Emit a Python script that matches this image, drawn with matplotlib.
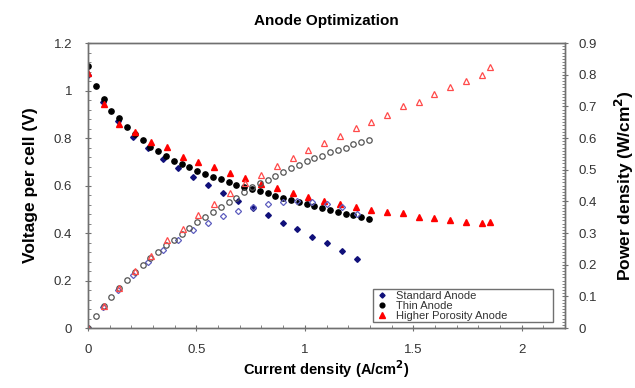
import matplotlib
matplotlib.use('Agg')
import matplotlib.pyplot as plt
from matplotlib.ticker import MultipleLocator, FuncFormatter

plt.rcParams['font.family'] = ['Liberation Sans', 'DejaVu Sans']

# --- Standard Anode ---
std_i = [0.0, 0.069, 0.138, 0.207, 0.276, 0.345, 0.414, 0.483, 0.552, 0.621,
         0.690, 0.759, 0.828, 0.897, 0.966, 1.035, 1.104, 1.173, 1.242]
std_v = [1.065, 0.953, 0.873, 0.806, 0.757, 0.711, 0.672, 0.637, 0.603, 0.569,
         0.534, 0.505, 0.475, 0.444, 0.415, 0.384, 0.356, 0.326, 0.289]
std_p = [0.0, 0.066, 0.120, 0.167, 0.209, 0.245, 0.278, 0.308, 0.333, 0.353,
         0.368, 0.383, 0.393, 0.398, 0.401, 0.397, 0.393, 0.382, 0.359]

# --- Thin Anode ---
thin_i = [0.0, 0.036, 0.072, 0.108, 0.144, 0.180, 0.216, 0.252, 0.288, 0.324,
          0.360, 0.396, 0.432, 0.468, 0.504, 0.540, 0.576, 0.612, 0.648, 0.684,
          0.720, 0.756, 0.792, 0.828, 0.864, 0.900, 0.936, 0.972, 1.008, 1.044,
          1.080, 1.116, 1.152, 1.188, 1.224, 1.260, 1.296]
thin_v = [1.104, 1.019, 0.963, 0.915, 0.883, 0.848, 0.818, 0.790, 0.763, 0.745,
          0.724, 0.705, 0.690, 0.676, 0.662, 0.648, 0.637, 0.626, 0.615, 0.602,
          0.595, 0.587, 0.578, 0.567, 0.557, 0.549, 0.539, 0.529, 0.522, 0.514,
          0.504, 0.497, 0.487, 0.480, 0.474, 0.466, 0.459]
thin_p = [0.0, 0.037, 0.069, 0.099, 0.127, 0.153, 0.177, 0.199, 0.220, 0.241,
          0.261, 0.279, 0.298, 0.316, 0.334, 0.350, 0.367, 0.383, 0.399, 0.412,
          0.428, 0.444, 0.458, 0.469, 0.481, 0.494, 0.505, 0.514, 0.526, 0.537,
          0.544, 0.555, 0.561, 0.570, 0.580, 0.587, 0.595]

# --- Higher Porosity Anode ---
por_i = [0.0, 0.073, 0.145, 0.218, 0.290, 0.363, 0.436, 0.508, 0.581, 0.653,
         0.726, 0.799, 0.871, 0.944, 1.016, 1.089, 1.162, 1.234, 1.307, 1.379,
         1.452, 1.525, 1.597, 1.670, 1.742, 1.815, 1.854]
por_v = [1.072, 0.943, 0.859, 0.827, 0.785, 0.763, 0.721, 0.700, 0.677, 0.651,
         0.630, 0.606, 0.588, 0.570, 0.553, 0.536, 0.522, 0.511, 0.497, 0.487,
         0.483, 0.469, 0.462, 0.455, 0.448, 0.441, 0.445]
por_p = [0.0, 0.069, 0.125, 0.180, 0.228, 0.277, 0.314, 0.356, 0.393, 0.425,
         0.457, 0.484, 0.512, 0.538, 0.562, 0.584, 0.607, 0.631, 0.650, 0.672,
         0.701, 0.715, 0.738, 0.760, 0.780, 0.800, 0.825]

labels = ['Standard Anode', 'Thin Anode', 'Higher Porosity Anode']

fig = plt.figure(figsize=(6.35, 3.88), dpi=100)
fig.patch.set_facecolor('white')
ax = fig.add_axes([0.1386, 0.1546, 0.7512, 0.7345])
ax2 = ax.twinx()

# voltage (filled markers)
h1, = ax.plot(std_i, std_v, ls='none', marker='D', ms=2.9, color='#10107a', label=labels[0])
h2, = ax.plot(thin_i, thin_v, ls='none', marker='o', ms=3.8, color='black', label=labels[1])
h3, = ax.plot(por_i, por_v, ls='none', marker='^', ms=4.6, color='red', label=labels[2])

# power density (open markers)
ax2.plot(std_i, std_p, ls='none', marker='D', ms=3.1, mfc='none', mec='#5f5fbf', mew=0.9)
ax2.plot(thin_i, thin_p, ls='none', marker='o', ms=3.9, mfc='none', mec='#555555', mew=0.9)
ax2.plot(por_i, por_p, ls='none', marker='^', ms=4.8, mfc='none', mec='#ff4a4a', mew=0.9)

fmt = FuncFormatter(lambda v, pos: f'{v:g}')

ax.set_xlim(0, 2.2)
ax.set_ylim(0, 1.2)
ax2.set_ylim(0, 0.9)
ax.set_xticks([0, 0.5, 1, 1.5, 2])
ax.xaxis.set_minor_locator(MultipleLocator(0.1))
ax.yaxis.set_major_locator(MultipleLocator(0.2))
ax.yaxis.set_minor_locator(MultipleLocator(0.04))
ax2.yaxis.set_major_locator(MultipleLocator(0.1))
ax2.yaxis.set_minor_locator(MultipleLocator(0.01))
ax.xaxis.set_major_formatter(fmt)
ax.yaxis.set_major_formatter(fmt)
ax2.yaxis.set_major_formatter(fmt)

for a in (ax, ax2):
    for s in a.spines.values():
        s.set_color('#707070')
        s.set_linewidth(1.0)
    a.tick_params(which='major', direction='inout', length=5, width=0.8,
                  color='#707070', labelsize=9.5, labelcolor='#333333')
    a.tick_params(which='minor', direction='in', length=2.5, width=0.6, color='#707070')
ax.tick_params(axis='x', which='major', pad=9)
ax.tick_params(axis='y', which='major', pad=9)
ax2.tick_params(axis='y', which='major', pad=7)

ax.set_xlabel('Current density (A/cm$^\\mathbf{2}$)', fontsize=10.5, fontweight='bold', labelpad=2)
ax.set_ylabel('Voltage per cell (V)', fontsize=12.5, fontweight='bold', labelpad=11)
ax2.set_ylabel('Power density (W/cm$^\\mathbf{2}$)', fontsize=12.5, fontweight='bold', labelpad=12)
ax.set_title('Anode Optimization', fontsize=11, fontweight='bold', pad=13)

leg = ax2.legend([h1, h2, h3], labels, loc='lower left',
                 bbox_to_anchor=(0.597, 0.021, 0.377, 0.13), mode='expand',
                 fontsize=8, labelspacing=0.0, borderpad=0.12, handlelength=1.4,
                 handletextpad=0.6, borderaxespad=0, fancybox=False, framealpha=1,
                 edgecolor='#707070', markerscale=0.9)
leg.get_frame().set_linewidth(1.0)
for t in leg.get_texts():
    t.set_color('#333333')

fig.savefig('out.png', dpi=100, facecolor='white')
